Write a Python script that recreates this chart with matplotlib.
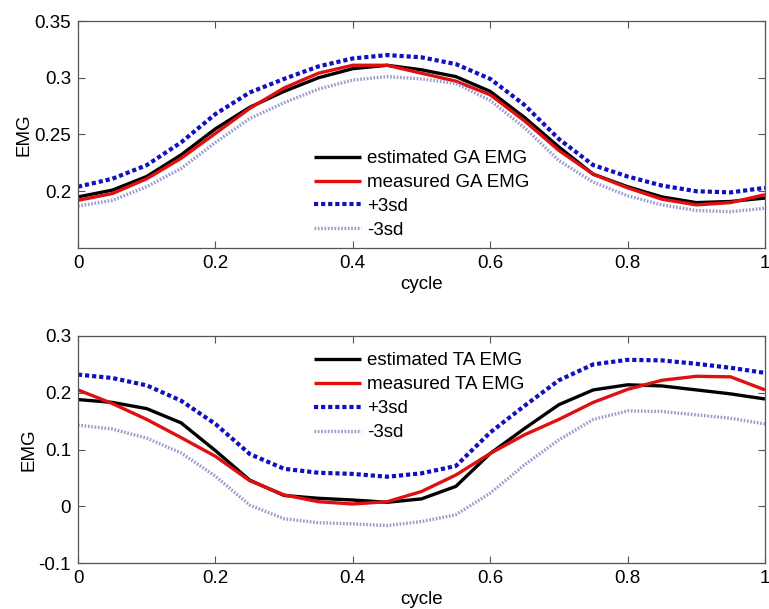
import matplotlib
matplotlib.use("Agg")
import matplotlib.pyplot as plt
import numpy as np

plt.rcParams['font.family'] = ['Liberation Sans', 'DejaVu Sans']

cycle = [0.0, 0.05, 0.1, 0.15, 0.2, 0.25, 0.3, 0.35, 0.4, 0.45, 0.5,
         0.55, 0.6, 0.65, 0.7, 0.75, 0.8, 0.85, 0.9, 0.95, 1.0]

# GA (top panel)
ga_est = [0.195, 0.201, 0.213, 0.232, 0.255, 0.274, 0.288, 0.300, 0.308, 0.311, 0.307,
          0.301, 0.288, 0.265, 0.239, 0.215, 0.204, 0.195, 0.190, 0.191, 0.194]
ga_meas = [0.192, 0.198, 0.211, 0.229, 0.251, 0.273, 0.291, 0.304, 0.311, 0.311, 0.304,
           0.297, 0.285, 0.262, 0.236, 0.215, 0.203, 0.193, 0.188, 0.190, 0.197]
ga_p3 = [0.204, 0.211, 0.223, 0.243, 0.268, 0.287, 0.299, 0.310, 0.317, 0.320, 0.318,
         0.312, 0.299, 0.276, 0.246, 0.223, 0.213, 0.205, 0.200, 0.199, 0.203]
ga_m3 = [0.187, 0.192, 0.204, 0.220, 0.243, 0.264, 0.278, 0.290, 0.298, 0.301, 0.299,
         0.295, 0.280, 0.256, 0.227, 0.208, 0.196, 0.188, 0.183, 0.182, 0.185]

# TA (bottom panel)
ta_est = [0.188, 0.183, 0.172, 0.147, 0.098, 0.046, 0.019, 0.014, 0.011, 0.007, 0.013,
          0.035, 0.093, 0.137, 0.179, 0.205, 0.214, 0.212, 0.205, 0.198, 0.189]
ta_meas = [0.205, 0.181, 0.153, 0.121, 0.088, 0.045, 0.020, 0.008, 0.004, 0.008, 0.026,
           0.055, 0.093, 0.126, 0.153, 0.183, 0.206, 0.222, 0.229, 0.228, 0.205]
ta_p3 = [0.232, 0.226, 0.213, 0.186, 0.145, 0.092, 0.066, 0.059, 0.057, 0.052, 0.058,
         0.071, 0.130, 0.177, 0.222, 0.250, 0.258, 0.257, 0.251, 0.244, 0.235]
ta_m3 = [0.143, 0.136, 0.120, 0.094, 0.053, 0.002, -0.022, -0.029, -0.031, -0.034, -0.027,
         -0.015, 0.023, 0.073, 0.117, 0.153, 0.168, 0.167, 0.161, 0.155, 0.145]

ga_labels = ['estimated GA EMG', 'measured GA EMG', '+3sd', '-3sd']
ta_labels = ['estimated TA EMG', 'measured TA EMG', '+3sd', '-3sd']

xticks = [0, 0.2, 0.4, 0.6, 0.8, 1]
xticklabels = ['0', '0.2', '0.4', '0.6', '0.8', '1']
ga_yticks = [0.2, 0.25, 0.3, 0.35]
ga_yticklabels = ['0.2', '0.25', '0.3', '0.35']
ta_yticks = [-0.1, 0, 0.1, 0.2, 0.3]
ta_yticklabels = ['-0.1', '0', '0.1', '0.2', '0.3']

W, H = 769, 609
fig = plt.figure(figsize=(W / 100, H / 100), dpi=100)

ax1 = fig.add_axes([78 / W, 1 - 248 / H, 687 / W, 227 / H])
ax2 = fig.add_axes([78 / W, 1 - 563 / H, 687 / W, 227 / H])

FS = 13.5
spine_col = '#555555'


def draw(ax, est, meas, p3, m3, labels, ylim, yticks, yticklabels, leg_anchor):
    ax.plot(cycle, est, color='black', lw=2.4, label=labels[0], solid_capstyle='butt')
    ax.plot(cycle, meas, color='#e01010', lw=2.4, label=labels[1], solid_capstyle='butt')
    ax.plot(cycle, p3, color='#1010c0', lw=3.0, linestyle=(0, (1.0, 0.7)), label=labels[2])
    ax.plot(cycle, m3, color='#9a9acc', lw=2.4, linestyle=(0, (0.5, 0.5)), label=labels[3])
    ax.set_xlim(0, 1)
    ax.set_ylim(*ylim)
    ax.set_xticks(xticks)
    ax.set_xticklabels(xticklabels)
    ax.set_yticks(yticks)
    ax.set_yticklabels(yticklabels)
    ax.tick_params(direction='in', top=True, right=True, length=5, width=0.8,
                   color=spine_col, labelsize=FS, pad=5)
    for s in ax.spines.values():
        s.set_color(spine_col)
        s.set_linewidth(0.9)
    ax.set_xlabel('cycle', fontsize=FS, labelpad=3)
    ax.set_ylabel('EMG', fontsize=FS, labelpad=1)
    ax.legend(loc='upper left', bbox_to_anchor=leg_anchor, frameon=False, fontsize=FS,
              borderpad=0, borderaxespad=0, handlelength=2.5, handletextpad=0.3,
              labelspacing=0.36)


draw(ax1, ga_est, ga_meas, ga_p3, ga_m3, ga_labels, (0.15, 0.35),
     ga_yticks, ga_yticklabels, (0.344, 0.431))
draw(ax2, ta_est, ta_meas, ta_p3, ta_m3, ta_labels, (-0.1, 0.3),
     ta_yticks, ta_yticklabels, (0.344, 0.928))

fig.savefig('out.png', dpi=100)
